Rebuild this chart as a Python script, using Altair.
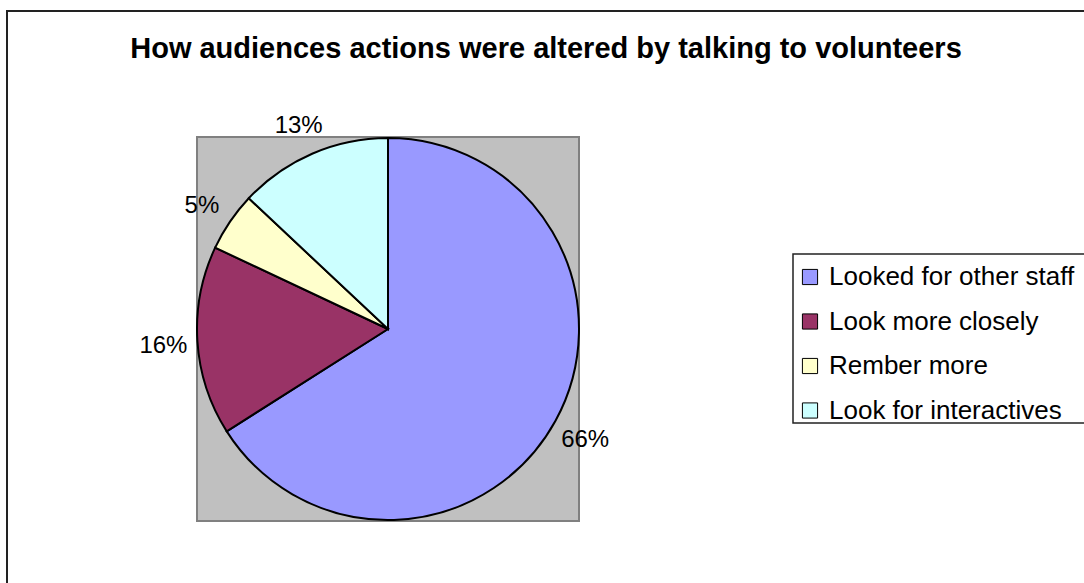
import altair as alt
import pandas as pd

# Data
categories = ["Looked for other staff", "Look more closely", "Rember more", "Look for interactives"]
values = [66, 16, 5, 13]
labels = ["66%", "16%", "5%", "13%"]
colors = ["#9999FF", "#993366", "#FFFFCC", "#CCFFFF"]
title_text = "How audiences actions were altered by talking to volunteers"

FONT = "Liberation Sans"

df = pd.DataFrame({
    "category": categories,
    "value": values,
    "label": labels,
    "idx": list(range(len(categories))),
})
one = pd.DataFrame({"t": [title_text]})

W, H = 1084, 583
CX, CY, R = 388, 329, 191

frame = alt.Chart(one).mark_rect(fill="white", stroke="#222222", strokeWidth=2).encode(
    x=alt.value(7), x2=alt.value(1120), y=alt.value(11), y2=alt.value(620)
)

plot_bg = alt.Chart(one).mark_rect(fill="#C0C0C0", stroke="#808080", strokeWidth=2).encode(
    x=alt.value(197), x2=alt.value(579), y=alt.value(137), y2=alt.value(521)
)

legend_box = alt.Chart(one).mark_rect(fill="white", stroke="#222222", strokeWidth=1.5).encode(
    x=alt.value(793), x2=alt.value(1120), y=alt.value(254), y2=alt.value(423)
)

color = alt.Color(
    "category:N",
    scale=alt.Scale(domain=categories, range=colors),
    legend=alt.Legend(
        title=None,
        orient="none",
        legendX=787,
        legendY=254,
        padding=10,
        symbolType="square",
        symbolSize=230,
        symbolStrokeColor="black",
        symbolStrokeWidth=1,
        symbolOpacity=1,
        labelFont=FONT,
        labelFontSize=26,
        labelColor="black",
        rowPadding=18.5,
        labelOffset=6,
        labelLimit=400,
    ),
)

pie = alt.Chart(df).mark_arc(radius=R, stroke="black", strokeWidth=2).encode(
    theta=alt.Theta("value:Q", stack=True),
    color=color,
    order=alt.Order("idx:Q"),
    x=alt.value(CX),
    y=alt.value(CY),
)

text = alt.Chart(df).mark_text(radius=225, fontSize=24, font=FONT, color="black",
                               align="center", baseline="middle", dy=3).encode(
    theta=alt.Theta("value:Q", stack=True),
    order=alt.Order("idx:Q"),
    text="label:N",
    x=alt.value(CX),
    y=alt.value(CY),
)

title = alt.Chart(one).mark_text(fontSize=29, fontWeight="bold", font=FONT, color="black",
                                 align="center", baseline="alphabetic").encode(
    text="t:N", x=alt.value(546), y=alt.value(58)
)

chart = alt.layer(frame, plot_bg, legend_box, pie, text, title).properties(
    width=W, height=H, autosize="none", padding=0, background="white"
).configure_view(stroke=None)

chart.save("out.html", embed_options={"renderer": "svg", "actions": False})
